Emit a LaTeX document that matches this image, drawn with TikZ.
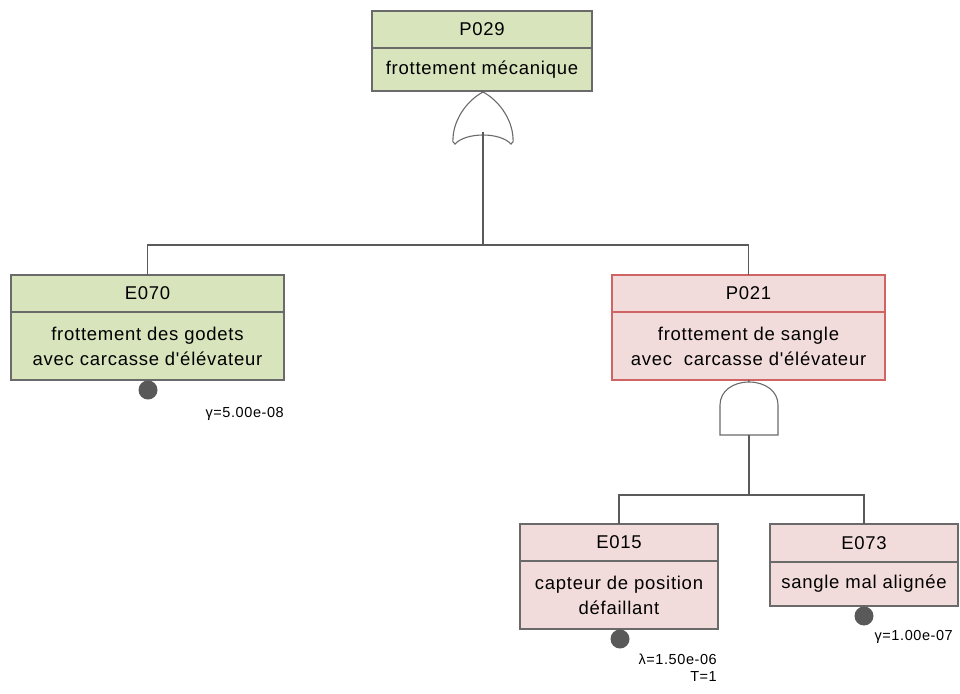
\documentclass[tikz,border=0pt]{standalone}
\usepackage{fontspec}
\setmainfont{Liberation Sans}
\newfontfamily\boxfont[LetterSpace=4]{Liberation Sans}
\definecolor{gfill}{HTML}{D8E4BC}
\definecolor{pfill}{HTML}{F2DCDB}
\definecolor{gline}{HTML}{6A6A6A}
\definecolor{rline}{HTML}{D06464}
\definecolor{wire}{HTML}{5A5A5A}
\definecolor{dotc}{HTML}{595959}
\tikzset{
  cell/.style={draw=gline, line width=1.4pt, inner sep=0pt, outer sep=0pt, anchor=north west,
    font=\boxfont\fontsize{18.5}{25}\selectfont, align=center, text=black},
  gcell/.style={cell, fill=gfill},
  pcell/.style={cell, fill=pfill},
  rcell/.style={cell, fill=pfill, draw=rline},
  wireline/.style={draw=wire, line width=1.1pt},
  gateline/.style={draw=gline, line width=1.1pt, fill=white},
  evdot/.style={circle, fill=dotc, inner sep=0pt, minimum size=19pt},
  lbl/.style={font=\boxfont\fontsize{14.5}{17}\selectfont, inner sep=0pt, align=right, text=black}
}
\begin{document}
\begin{tikzpicture}[x=1pt,y=-1pt]
\useasboundingbox (0,0) rectangle (960,693);
% P029
\node[gcell, minimum width=220, minimum height=37] (P029h) at (372,11) {P029};
\node[gcell, minimum width=220, minimum height=43] (P029b) at (372,48) {frottement mécanique};
% E070
\node[gcell, minimum width=273, minimum height=37] (E070h) at (11,275) {E070};
\node[gcell, minimum width=273, minimum height=68] (E070b) at (11,312) {frottement des godets\\avec carcasse d'élévateur};
% P021
\node[rcell, minimum width=273, minimum height=37] (P021h) at (612,275) {P021};
\node[rcell, minimum width=273, minimum height=68] (P021b) at (612,312) {frottement de sangle\\avec\ \ carcasse d'élévateur};
% E015
\node[pcell, minimum width=198, minimum height=37] (E015h) at (520,524) {E015};
\node[pcell, minimum width=198, minimum height=68] (E015b) at (520,561) {capteur de position\\défaillant};
% E073
\node[pcell, minimum width=188, minimum height=38] (E073h) at (770,524) {E073};
\node[pcell, minimum width=188, minimum height=44] (E073b) at (770,562) {sangle mal alignée};

% OR gate
\coordinate (ortop) at (483,92);
\coordinate (orout) at (483,132);
\draw[gateline] (ortop) .. controls (468,100) and (454,118) .. (453,138)
  .. controls (452,141) and (453,143) .. (455,144)
  .. controls (466,132) and (500,132) .. (511,144)
  .. controls (513,143) and (514,141) .. (513,138)
  .. controls (512,118) and (498,100) .. (ortop) -- cycle;
\draw[wireline] (P029b.south) -- (ortop);
\coordinate (j1) at (483,245);
\draw[wireline] (orout) -- (j1);
\draw[wireline] (j1) -| (E070h.north);
\draw[wireline] (j1) -| (P021h.north);

% AND gate
\coordinate (andtop) at (749,382);
\coordinate (andout) at (749,435);
\draw[gateline] (720,435) -- (720,405) .. controls (720,391) and (733,382) .. (andtop)
  .. controls (765,382) and (778,391) .. (778,405) -- (778,435) -- cycle;
\draw[wireline] (P021b.south) -- (andtop);
\coordinate (j2) at (749,495);
\draw[wireline] (andout) -- (j2);
\draw[wireline] (j2) -| (E015h.north);
\draw[wireline] (j2) -| (E073h.north);

% basic event dots
\node[evdot] (d1) at (148,390) {};
\node[evdot] (d2) at (620,639) {};
\node[evdot] (d3) at (864,616) {};

% labels
\node[lbl, anchor=east] (l1) at (284,414) {γ=5.00e-08};
\node[lbl, anchor=north east] (l2) at (717,654) {λ=1.50e-06\\T=1};
\node[lbl, anchor=east] (l3) at (953,637) {γ=1.00e-07};
\end{tikzpicture}
\end{document}
